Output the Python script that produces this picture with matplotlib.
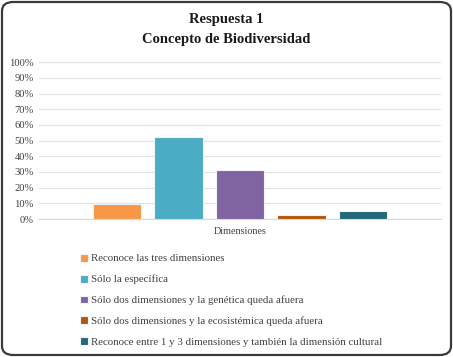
import matplotlib.pyplot as plt
from matplotlib.patches import FancyBboxPatch
from matplotlib.ticker import PercentFormatter

# data
categories = ['Reconoce las tres dimensiones',
              'Sólo la específica',
              'Sólo dos dimensiones y la genética queda afuera',
              'Sólo dos dimensiones y la ecosistémica queda afuera',
              'Reconoce entre 1 y 3 dimensiones y también la dimensión cultural']
values = [9.5, 52.4, 31.0, 2.4, 4.8]
colors = ['#F79646', '#4BACC6', '#8064A2', '#B65708', '#22677A']
positions = [-2, -1, 0, 1, 2]
yticks = list(range(0, 101, 10))

plt.rcParams['font.family'] = ['Liberation Serif', 'DejaVu Serif']

fig = plt.figure(figsize=(4.53, 3.57), dpi=100)
W, H = 453, 357

# rounded border round the whole chart
border = FancyBboxPatch((2 / W, 2 / H), 1 - 4 / W, 1 - 4 / H,
                        boxstyle='round,pad=0,rounding_size=0.025',
                        transform=fig.transFigure, fill=False,
                        edgecolor='#3a3a3a', linewidth=1.6)
fig.patches.append(border)

ax = fig.add_axes([39.3 / W, 1 - 219 / H, 401.4 / W, 156.7 / H])
handles = []
for x, v, c, lab in zip(positions, values, colors, categories):
    b = ax.bar(x, v, width=0.79, color=c, edgecolor='#eef4f7',
               linewidth=0.8, label=lab, zorder=3)
    handles.append(b)

ax.set_xlim(-3.26, 3.26)
ax.set_ylim(0, 100)
ax.set_yticks(yticks)
ax.yaxis.set_major_formatter(PercentFormatter(decimals=0))
ax.set_xticks([])
ax.grid(axis='y', color='#e3e3e3', linewidth=0.9, zorder=0)
for s in ['left', 'right', 'top']:
    ax.spines[s].set_visible(False)
ax.spines['bottom'].set_color('#d9d9d9')
ax.tick_params(axis='y', length=0, labelsize=7.6, pad=4, labelcolor='#404040')
ax.set_xlabel('Dimensiones', fontsize=7.3, color='#404040', labelpad=6)

fig.text(0.5, 1 - 20 / H, 'Respuesta 1', ha='center', va='center',
         fontsize=10.5, fontweight='bold', color='#1a1a1a')
fig.text(0.5, 1 - 40 / H, 'Concepto de Biodiversidad', ha='center', va='center',
         fontsize=10.5, fontweight='bold', color='#1a1a1a')

fig.legend(handles=handles, labels=categories, loc='upper left',
           bbox_to_anchor=(70 / W, 1 - 244 / H), frameon=False,
           fontsize=7.8, labelspacing=1.03, handlelength=0.75,
           handleheight=0.75, handletextpad=0.3, labelcolor='#404040')

fig.savefig('out.png', dpi=100)
